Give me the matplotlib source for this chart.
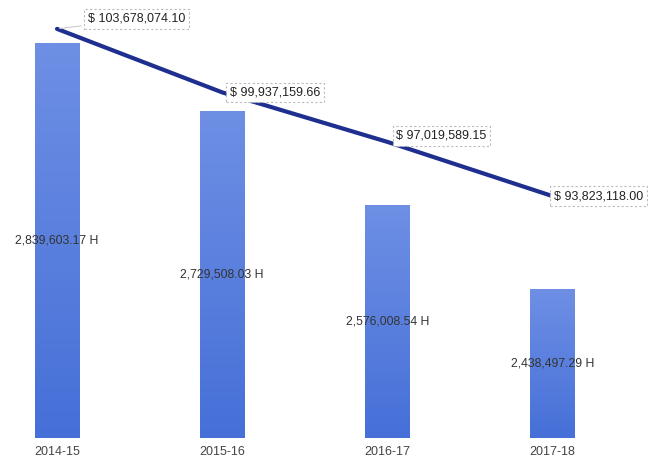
import matplotlib

matplotlib.use("Agg")
import matplotlib.pyplot as plt
import numpy as np

# hours worked and cost per fiscal year
years = ["2014-15", "2015-16", "2016-17", "2017-18"]
hours = [2839603.17, 2729508.03, 2576008.54, 2438497.29]
cost = [103678074.10, 99937159.66, 97019589.15, 93823118.00]

plt.rcParams["font.family"] = ["Liberation Sans", "DejaVu Sans"]

fig = plt.figure(figsize=(6.48, 4.59), dpi=100)
ax = fig.add_axes([0, 21 / 459, 1, 438 / 459])
x = np.arange(len(years))

bars = ax.bar(x, hours, width=0.272, color="#5078dc", zorder=2)
ylo, yhi = 2.1957e6, 2.9101e6

# soft vertical gradient inside each bar
grad = np.linspace(0, 1, 256).reshape(-1, 1)
cmap = matplotlib.colors.LinearSegmentedColormap.from_list("bar", ["#4670d8", "#6e8fe4"])
for b in bars:
    x0, w, h = b.get_x(), b.get_width(), b.get_height()
    im = ax.imshow(grad, cmap=cmap, aspect="auto", origin="lower",
                   extent=(x0, x0 + w, ylo, h), zorder=2)
    im.set_clip_path(b)
ax.set_xlim(-0.345, 3.578)
ax.set_ylim(ylo, yhi)

for xi, h in zip(x, hours):
    ax.text(xi, (ylo + h) / 2, f"{h:,.2f} H", ha="center", va="center",
            fontsize=8.8, color="#333333", zorder=4)

ax.set_xticks(x)
ax.set_xticklabels(years, fontsize=9, color="#444444")
ax.tick_params(axis="x", length=0, pad=6)
ax.set_yticks([])
for s in ax.spines.values():
    s.set_visible(False)

ax2 = ax.twinx()
ax2.plot(x, cost, color="#1f2f8f", lw=3, solid_capstyle="round", zorder=3)
ax2.set_ylim(79.57e6, 105.38e6)
ax2.set_yticks([])
for s in ax2.spines.values():
    s.set_visible(False)

offsets = [(31, 10), (8, 0), (9, 6), (1, 0)]
box = dict(boxstyle="square,pad=0.3", fc="white", ec="#bbbbbb", lw=0.8, ls=(0, (2, 2)))
for i, (xi, c) in enumerate(zip(x, cost)):
    arrow = dict(arrowstyle="-", color="#cccccc", lw=0.8) if i == 0 else None
    ax2.annotate(f"$ {c:,.2f}", (xi, c), xytext=offsets[i],
                 textcoords="offset pixels", ha="left", va="center",
                 fontsize=9, color="#222222", bbox=box, arrowprops=arrow,
                 zorder=5)

fig.savefig("out.png", dpi=100)
